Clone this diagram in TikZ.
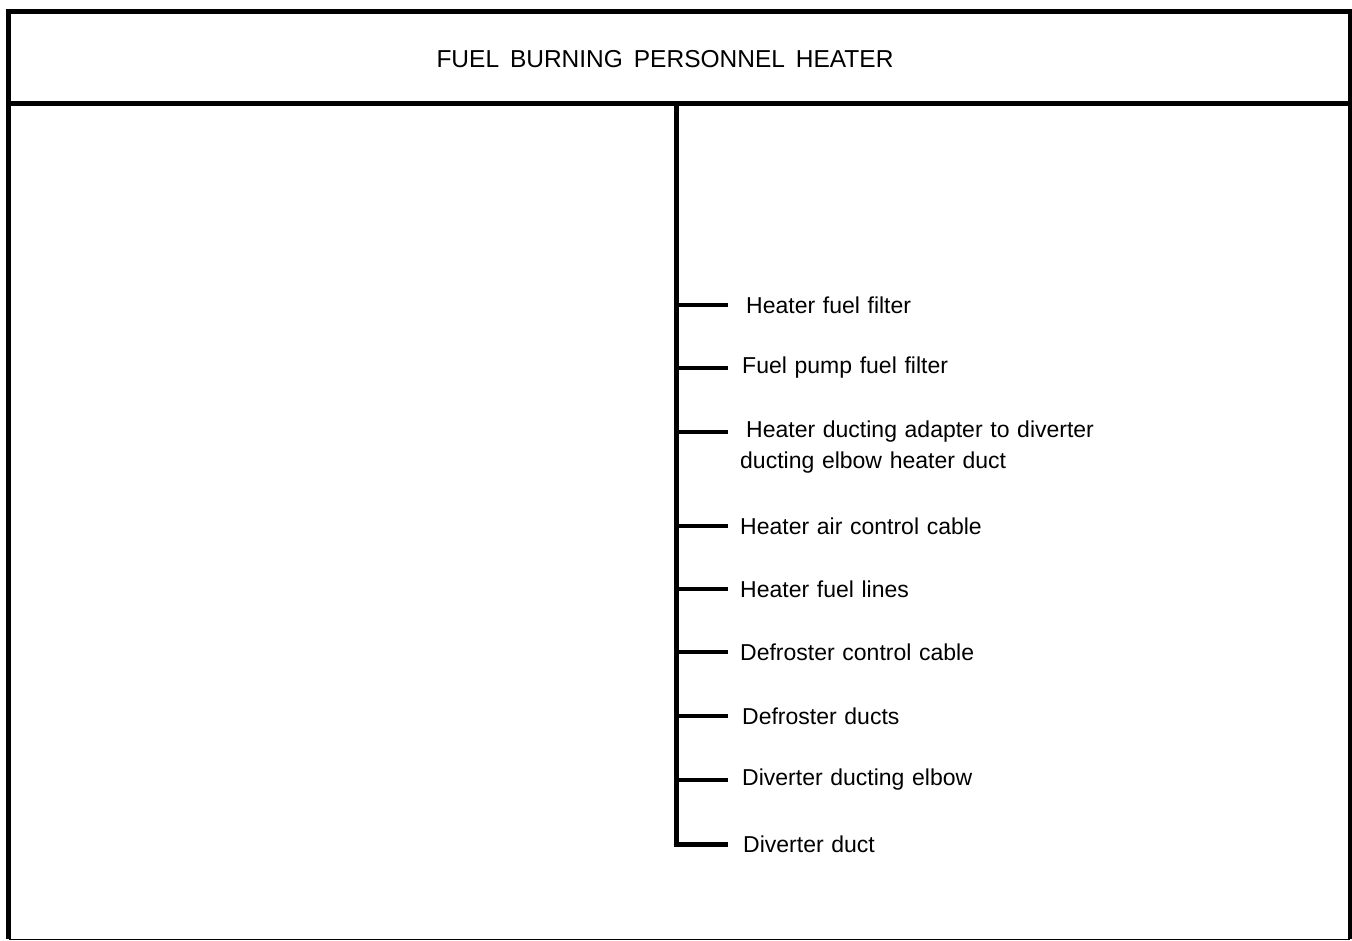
\documentclass[tikz,border=0pt]{standalone}
\usepackage{fontspec}
\setmainfont{Liberation Sans}[WordSpace={1.2,1,1}]
\newfontfamily\titlefont{Liberation Sans}[WordSpace={1.6,1,1}]
\begin{document}
\begin{tikzpicture}[x=1pt,y=-1pt,
  frame/.style={line width=5pt},
  trunk/.style={line width=5pt},
  branch/.style={line width=4.5pt},
  item/.style={anchor=west,inner sep=0pt,font=\fontsize{23}{27}\selectfont},
  titletext/.style={inner sep=0pt,font=\titlefont\fontsize{24.5}{28}\selectfont}]
\useasboundingbox (0,0) rectangle (1352,940);
% frame
\draw[frame] (8.5,939) -- (8.5,11) -- (1350,11) -- (1350,939);
\draw[line width=1.2pt] (8.5,939.2) -- (1350,939.2);
\draw[frame] (8.5,103) -- (1350,103);
\node[titletext] (title) at (665,59) {FUEL BURNING PERSONNEL HEATER};
% tree
\coordinate (top) at (676,103);
\coordinate (corner) at (676,844);
\draw[trunk,line join=miter] (top) -- (corner) -- (728,844);
\node[item] (i1) at (746,305) {Heater fuel filter};
\node[item] (i2) at (742,368) {Fuel pump fuel filter};
\node[item] (i3) at (746,432) {Heater ducting adapter to diverter};
\node[item] (i3b) at (740,463) {ducting elbow heater duct};
\node[item] (i4) at (740,526) {Heater air control cable};
\node[item] (i5) at (740,589) {Heater fuel lines};
\node[item] (i6) at (740,652) {Defroster control cable};
\node[item] (i7) at (742,716) {Defroster ducts};
\node[item] (i8) at (742,780) {Diverter ducting elbow};
\node[item] (i9) at (743,844) {Diverter duct};
\foreach \n/\y in {b1/305,b2/368,b3/432,b4/526,b5/589,b6/652,b7/716,b8/780}{
  \coordinate (\n s) at (676,\y);
  \coordinate (\n e) at (728,\y);
  \draw[branch] (\n s) -- (\n e);
}
\end{tikzpicture}
\end{document}
